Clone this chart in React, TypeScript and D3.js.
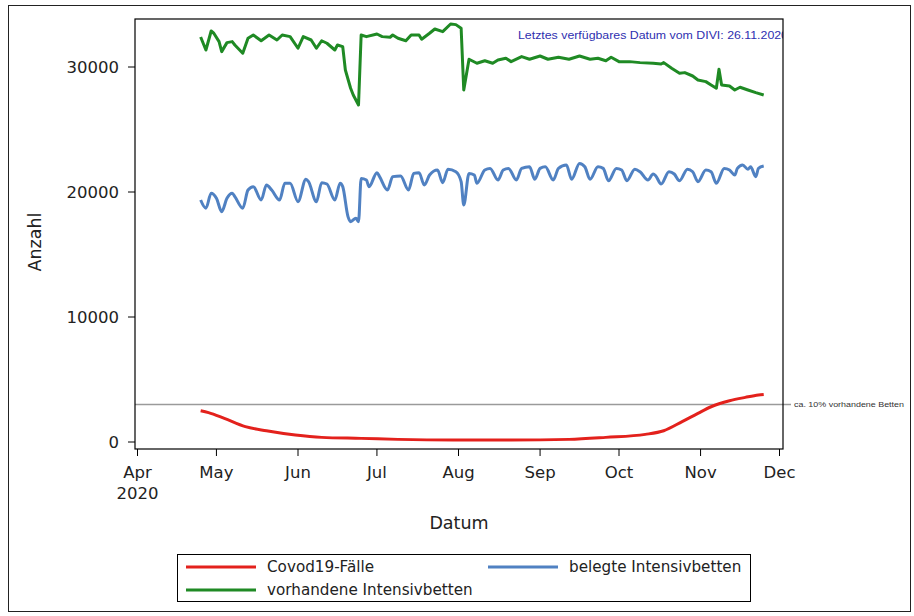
import React from "react";
import * as d3 from "d3";

// ---- data ----
const yTicks = [0, 10000, 20000, 30000];
const refValue = 3000;
const refLabel = "ca. 10% vorhandene Betten";
const noteText = "Letztes verfügbares Datum vom DIVI: 26.11.2020";
const legendLabels = ["Covod19-Fälle", "belegte Intensivbetten", "vorhandene Intensivbetten"];

const covid: [string, number][] = [
  ["2020-04-25", 2500], ["2020-04-28", 2350], ["2020-05-04", 1890], ["2020-05-12", 1230],
  ["2020-05-20", 900], ["2020-05-31", 560], ["2020-06-10", 370], ["2020-06-25", 290],
  ["2020-07-09", 210], ["2020-07-30", 160], ["2020-08-21", 160], ["2020-09-12", 210],
  ["2020-09-26", 370], ["2020-10-11", 610], ["2020-10-18", 900], ["2020-10-25", 1630],
  ["2020-10-31", 2290], ["2020-11-05", 2820], ["2020-11-12", 3300], ["2020-11-18", 3570],
  ["2020-11-23", 3760], ["2020-11-25", 3800],
];

const belegte: [string, number][] = [
  ["2020-04-25", 19360], ["2020-04-27", 18700], ["2020-04-29", 19900], ["2020-05-01", 19500],
  ["2020-05-03", 18430], ["2020-05-05", 19500], ["2020-05-07", 19900], ["2020-05-08", 19630],
  ["2020-05-11", 18700], ["2020-05-13", 20160], ["2020-05-15", 20430], ["2020-05-18", 19360],
  ["2020-05-20", 20560], ["2020-05-22", 20160], ["2020-05-25", 19360], ["2020-05-27", 20700],
  ["2020-05-29", 20700], ["2020-06-01", 19230], ["2020-06-04", 21020], ["2020-06-05", 20830],
  ["2020-06-08", 19230], ["2020-06-10", 20750], ["2020-06-12", 20640], ["2020-06-15", 19360],
  ["2020-06-17", 20700], ["2020-06-18", 20430], ["2020-06-20", 18030], ["2020-06-21", 17630],
  ["2020-06-23", 17900], ["2020-06-24", 17630], ["2020-06-25", 21090], ["2020-06-27", 20960],
  ["2020-06-28", 20430], ["2020-07-01", 21550], ["2020-07-02", 21230], ["2020-07-05", 20160],
  ["2020-07-07", 21230], ["2020-07-10", 21280], ["2020-07-13", 20160], ["2020-07-15", 21490],
  ["2020-07-17", 21550], ["2020-07-19", 20560], ["2020-07-21", 21360], ["2020-07-24", 21760],
  ["2020-07-26", 20750], ["2020-07-28", 21820], ["2020-07-31", 21620], ["2020-08-02", 20830],
  ["2020-08-03", 18960], ["2020-08-05", 21490], ["2020-08-07", 21360], ["2020-08-08", 20700],
  ["2020-08-11", 21760], ["2020-08-13", 21890], ["2020-08-16", 20960], ["2020-08-18", 21760],
  ["2020-08-20", 21890], ["2020-08-23", 20960], ["2020-08-25", 21890], ["2020-08-28", 22020],
  ["2020-08-30", 21020], ["2020-09-01", 21890], ["2020-09-03", 22020], ["2020-09-06", 20960],
  ["2020-09-08", 21890], ["2020-09-11", 22160], ["2020-09-13", 21020], ["2020-09-16", 22290],
  ["2020-09-18", 22020], ["2020-09-20", 21020], ["2020-09-23", 22020], ["2020-09-25", 21890],
  ["2020-09-27", 20900], ["2020-09-30", 21890], ["2020-10-02", 21760], ["2020-10-04", 20900],
  ["2020-10-07", 21820], ["2020-10-09", 21620], ["2020-10-12", 20960], ["2020-10-14", 21440],
  ["2020-10-15", 21280], ["2020-10-17", 20640], ["2020-10-20", 21620], ["2020-10-22", 21440],
  ["2020-10-24", 20900], ["2020-10-27", 21820], ["2020-10-29", 21620], ["2020-10-31", 20830],
  ["2020-11-03", 21760], ["2020-11-05", 21620], ["2020-11-07", 20700], ["2020-11-10", 21890],
  ["2020-11-12", 21760], ["2020-11-14", 21360], ["2020-11-15", 21890], ["2020-11-17", 22160],
  ["2020-11-19", 21820], ["2020-11-20", 22020], ["2020-11-22", 21230], ["2020-11-23", 21890],
  ["2020-11-25", 22080],
];

const vorhandene: [string, number][] = [
  ["2020-04-25", 32400], ["2020-04-27", 31360], ["2020-04-29", 32880], ["2020-04-30", 32700],
  ["2020-05-02", 32030], ["2020-05-03", 31230], ["2020-05-05", 31950], ["2020-05-07", 32030],
  ["2020-05-08", 31760], ["2020-05-11", 31100], ["2020-05-13", 32300], ["2020-05-15", 32560],
  ["2020-05-18", 32100], ["2020-05-21", 32560], ["2020-05-24", 32160], ["2020-05-26", 32560],
  ["2020-05-29", 32430], ["2020-06-01", 31500], ["2020-06-03", 32430], ["2020-06-06", 32160],
  ["2020-06-08", 31500], ["2020-06-10", 32100], ["2020-06-12", 31900], ["2020-06-15", 31360],
  ["2020-06-16", 31760], ["2020-06-18", 31630], ["2020-06-19", 29760], ["2020-06-21", 28300],
  ["2020-06-22", 27760], ["2020-06-24", 26960], ["2020-06-25", 32560], ["2020-06-27", 32430],
  ["2020-07-01", 32640], ["2020-07-03", 32430], ["2020-07-06", 32380], ["2020-07-07", 32560],
  ["2020-07-09", 32300], ["2020-07-12", 32100], ["2020-07-14", 32560], ["2020-07-17", 32560],
  ["2020-07-18", 32220], ["2020-07-21", 32700], ["2020-07-23", 33040], ["2020-07-26", 32830],
  ["2020-07-29", 33440], ["2020-07-31", 33390], ["2020-08-02", 33100], ["2020-08-03", 28160],
  ["2020-08-05", 30620], ["2020-08-08", 30300], ["2020-08-11", 30500], ["2020-08-14", 30300],
  ["2020-08-16", 30560], ["2020-08-19", 30700], ["2020-08-21", 30430], ["2020-08-25", 30830],
  ["2020-08-28", 30620], ["2020-09-01", 30880], ["2020-09-04", 30620], ["2020-09-08", 30780],
  ["2020-09-12", 30620], ["2020-09-16", 30880], ["2020-09-20", 30620], ["2020-09-23", 30700],
  ["2020-09-26", 30500], ["2020-09-28", 30780], ["2020-10-01", 30430], ["2020-10-05", 30430],
  ["2020-10-09", 30350], ["2020-10-14", 30300], ["2020-10-17", 30240], ["2020-10-18", 30350],
  ["2020-10-21", 29900], ["2020-10-24", 29500], ["2020-10-26", 29550], ["2020-10-29", 29280],
  ["2020-10-31", 28960], ["2020-11-03", 28830], ["2020-11-05", 28560], ["2020-11-07", 28300],
  ["2020-11-08", 29820], ["2020-11-09", 28560], ["2020-11-12", 28480], ["2020-11-14", 28160],
  ["2020-11-16", 28380], ["2020-11-19", 28160], ["2020-11-22", 27950], ["2020-11-25", 27760],
];

const colors = { covid: "#e3211c", belegte: "#5081c2", vorhandene: "#1f8a24" };

export default function App() {
  const parse = d3.timeParse("%Y-%m-%d");
  const x = d3.scaleTime().domain([new Date(2020, 3, 1), new Date(2020, 11, 1)]).range([137.5, 779.5]);
  const y = d3.scaleLinear().domain([0, 30000]).range([442, 67]);
  const frame = { l: 135, r: 783, t: 19, b: 449 };

  const mk = (curve: any) =>
    d3.line<[string, number]>()
      .x((d) => x(parse(d[0]) as Date))
      .y((d) => y(d[1]))
      .curve(curve);

  const months = d3.timeMonth.range(new Date(2020, 3, 1), new Date(2020, 11, 2));
  const fmt = d3.timeFormat("%b");
  const font = "'DejaVu Sans', sans-serif";

  return (
    <svg width={914} height={616} style={{ position: "absolute", left: 0, top: 0, background: "#fff" }}>
      <defs>
        <clipPath id="plotClip">
          <rect x={frame.l} y={frame.t} width={frame.r - frame.l} height={frame.b - frame.t} />
        </clipPath>
      </defs>
      <rect x={8.5} y={5.5} width={902} height={606} fill="none" stroke="#222" strokeWidth={1} />

      {/* reference line */}
      <line x1={frame.l} x2={frame.r + 8} y1={y(refValue)} y2={y(refValue)} stroke="#9a9a9a" strokeWidth={1.3} />
      <text x={794} y={y(refValue) + 2.5} fontFamily="'Liberation Sans', Arial, sans-serif" fontSize={7.5}
        textLength={110} lengthAdjust="spacingAndGlyphs" fill="#333">{refLabel}</text>

      <g clipPath="url(#plotClip)">
        <path d={mk(d3.curveMonotoneX)(covid) || ""} fill="none" stroke={colors.covid} strokeWidth={3} />
        <path d={mk(d3.curveMonotoneX)(belegte) || ""} fill="none" stroke={colors.belegte} strokeWidth={3} strokeLinejoin="round" />
        <path d={mk(d3.curveLinear)(vorhandene) || ""} fill="none" stroke={colors.vorhandene} strokeWidth={3} strokeLinejoin="round" />
        <text x={518} y={39} fontFamily="'Liberation Sans', Arial, sans-serif" fontSize={11.5}
          textLength={270} lengthAdjust="spacingAndGlyphs" fill="#2f30b0">{noteText}</text>
      </g>

      <rect x={frame.l} y={frame.t} width={frame.r - frame.l} height={frame.b - frame.t} fill="none" stroke="#000" strokeWidth={1.2} />

      {/* y axis */}
      {yTicks.map((t) => (
        <g key={t}>
          <line x1={frame.l - 7} x2={frame.l} y1={y(t)} y2={y(t)} stroke="#000" />
          <text x={119} y={y(t)} dy="0.36em" textAnchor="end" fontFamily={font} fontSize={16.5} fill="#222">{t}</text>
        </g>
      ))}
      <text transform={`translate(41,${242}) rotate(-90)`} textAnchor="middle" fontFamily={font} fontSize={17.5} fill="#222">Anzahl</text>

      {/* x axis */}
      {months.map((m, i) => (
        <g key={i}>
          <line x1={x(m)} x2={x(m)} y1={frame.b} y2={frame.b + 7} stroke="#000" />
          <text x={x(m)} y={478} textAnchor="middle" fontFamily={font} fontSize={16.5} fill="#222">{fmt(m)}</text>
          {i === 0 && (
            <text x={x(m)} y={499} textAnchor="middle" fontFamily={font} fontSize={16.5} fill="#222">2020</text>
          )}
        </g>
      ))}
      <text x={459} y={529} textAnchor="middle" fontFamily={font} fontSize={17.5} fill="#222">Datum</text>

      {/* legend */}
      <rect x={177.5} y={554.5} width={573} height={47} fill="none" stroke="#000" strokeWidth={1} />
      {[
        { c: colors.covid, lx: 186, ly: 567 },
        { c: colors.belegte, lx: 488, ly: 567 },
        { c: colors.vorhandene, lx: 186, ly: 590 },
      ].map((e, i) => (
        <g key={i}>
          <line x1={e.lx} x2={e.lx + 70} y1={e.ly} y2={e.ly} stroke={e.c} strokeWidth={3} />
          <text x={e.lx + 81} y={e.ly} dy="0.36em" fontFamily={font} fontSize={15.2} fill="#222">{legendLabels[i]}</text>
        </g>
      ))}
    </svg>
  );
}
